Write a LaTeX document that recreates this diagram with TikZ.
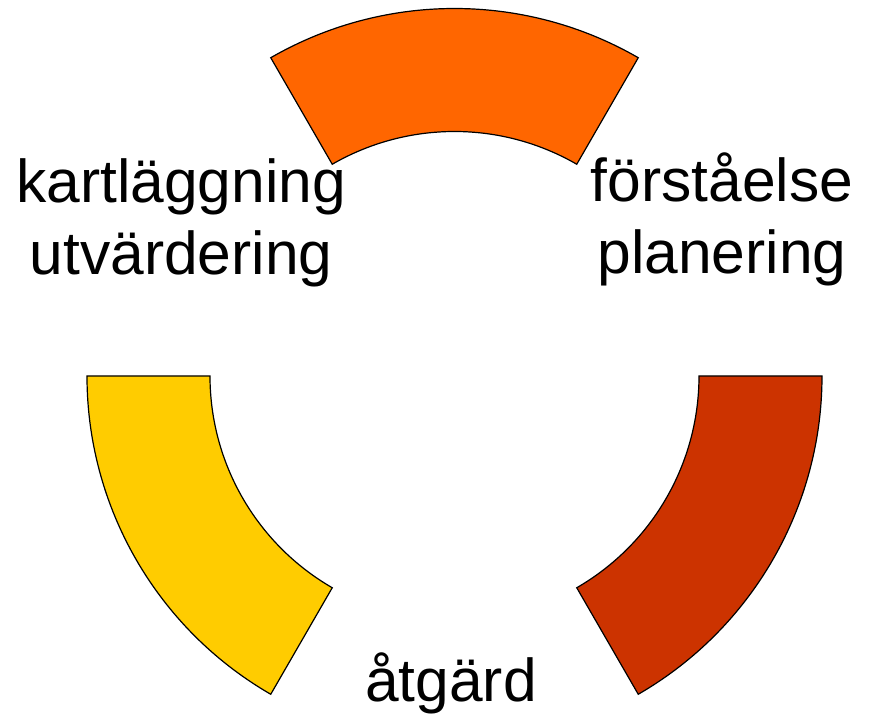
\documentclass[tikz,border=0pt]{standalone}
\usepackage{xcolor}
\usepackage{fontspec}
\setmainfont{Liberation Sans}
\usepackage{tikz}
\usetikzlibrary{positioning, calc}

\definecolor{segtop}{HTML}{FF6600}
\definecolor{segleft}{HTML}{FFCC00}
\definecolor{segright}{HTML}{CC3300}

\begin{document}
\begin{tikzpicture}[x=1pt, y=1pt]
			\tikzstyle{segment}=[draw=black, line width=1.2pt]
			\tikzstyle{phase}=[align=center, anchor=base, inner sep=0pt, font=\fontsize{60.5}{72}\selectfont, text=black]
			
			\useasboundingbox (-454.5,-343) rectangle (415.5,376);
			
			%% three ring segments, 60 degrees each
			\foreach \a/\c in {60/segtop, 180/segleft, 300/segright}
			{
				\draw [segment, fill=\c] (\a:367.5) arc [start angle=\a, delta angle=60, radius=367.5]
					-- ({\a+60}:244.5) arc [start angle={\a+60}, delta angle=-60, radius=244.5] -- cycle;
			}
			
			\node (kart) at (-273.5,101) [phase] {kartläggning\\utvärdering};
			\node (forst) at (267.5,102) [phase] {förståelse\\planering};
			\node (atg) at (-3.5,-326) [phase] {åtgärd};
\end{tikzpicture}
\end{document}
